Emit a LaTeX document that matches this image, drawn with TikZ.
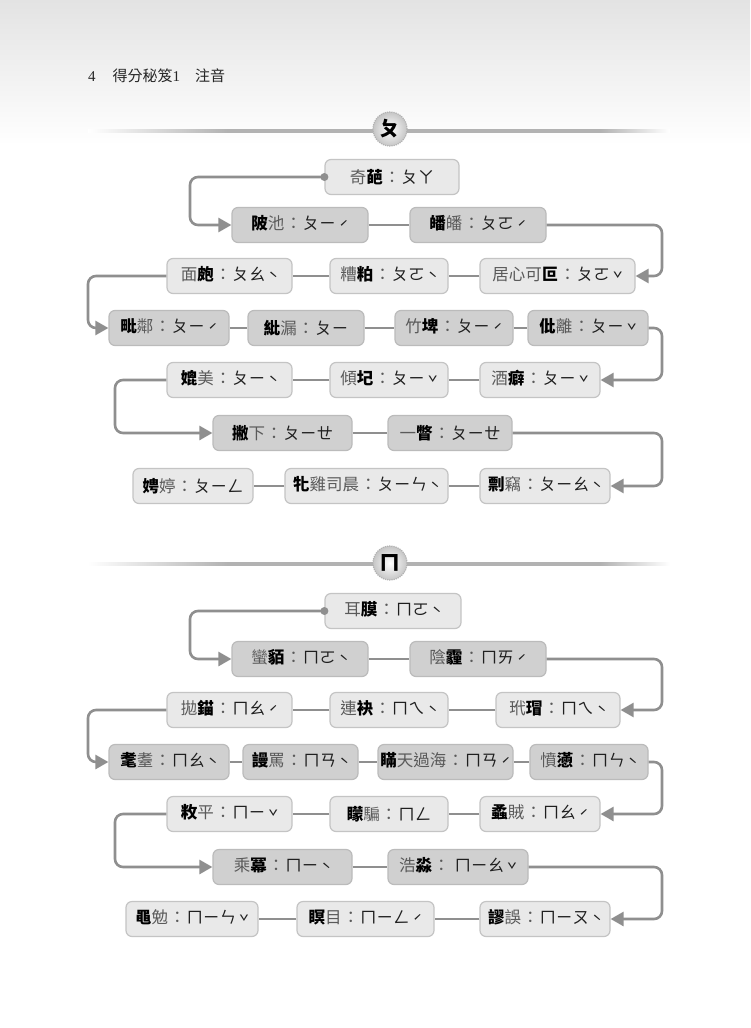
\documentclass[tikz,border=0pt]{standalone}
\usepackage{fontspec}
\setmainfont{Noto Sans CJK TC}
\newfontfamily\serfont{Liberation Serif}
\usetikzlibrary{arrows.meta}
\definecolor{lbox}{HTML}{E9E9E9}
\definecolor{lbord}{HTML}{C4C4C4}
\definecolor{dbox}{HTML}{D0D0D0}
\definecolor{dbord}{HTML}{BBBBBB}
\definecolor{conn}{HTML}{8F8F8F}
\definecolor{txt}{HTML}{5A5A5A}
\definecolor{divc}{HTML}{B2B2B2}
\pgfdeclarehorizontalshading{divsh}{100bp}{color(0bp)=(white); color(25bp)=(white); color(37bp)=(divc); color(69bp)=(divc); color(75bp)=(white); color(100bp)=(white)}
\newcommand{\B}[1]{{\bfseries\color{black}#1}}
\newcommand{\Z}[1]{\hspace{1pt}：\hspace{1pt}{\color{black!88}#1}}
\newcommand{\tn}[1]{\hspace{3pt}\raisebox{-4.5pt}{#1}}
\tikzset{
  word/.style={rounded corners=6pt, minimum height=35pt, inner sep=0pt, line width=1.2pt,
    text=txt, font=\fontsize{16.5}{18}\selectfont},
  light/.style={word, fill=lbox, draw=lbord},
  dark/.style={word, fill=dbox, draw=dbord},
  link/.style={draw=conn, line width=2.6pt},
  route/.style={link, rounded corners=8pt, -{Triangle[length=13pt,width=14pt]}},
  badge/.style={circle, minimum size=34pt, inner sep=0pt, inner color=white, outer color=gray!45,
    draw=gray!60, densely dotted, line width=1.2pt, text=black, font=\bfseries\fontsize{21}{21}\selectfont},
}
\begin{document}
\begin{tikzpicture}[x=1pt,y=-1pt]
\fill[white] (0,0) rectangle (750,1028);
\useasboundingbox (0,0) rectangle (750,1028);
\shade[top color=gray!22, bottom color=white] (0,0) rectangle (750,145);
\node[anchor=base west, font=\fontsize{15}{17}\selectfont, text=black!85, inner sep=0pt] (hdr) at (88,81)
  {{\serfont 4}\hspace{17pt}得分秘笈{\serfont 1}\hspace{15pt}注音};

% ---------- section 1 ----------
\shade[shading=divsh] (88,129.5) rectangle (670,132.5);
\node[badge] (pa) at (390,129) {ㄆ};

\node[light, minimum width=134pt] (a0) at (392,177) {奇\B{葩}\Z{ㄆㄚ}};
\node[dark, minimum width=136pt] (a1) at (300,225) {\B{陂}池\Z{ㄆㄧ\tn{ˊ}}};
\node[dark, minimum width=136pt] (a2) at (478,225) {\B{皤}皤\Z{ㄆㄛ\tn{ˊ}}};
\node[light, minimum width=125pt] (a3) at (229.5,276) {面\B{皰}\Z{ㄆㄠ\tn{ˋ}}};
\node[light, minimum width=118pt] (a4) at (389,276) {糟\B{粕}\Z{ㄆㄛ\tn{ˋ}}};
\node[light, minimum width=155pt] (a5) at (557.5,276) {居心可\B{叵}\Z{ㄆㄛ\tn{ˇ}}};
\node[dark, minimum width=120pt] (a6) at (169,328) {\B{毗}鄰\Z{ㄆㄧ\tn{ˊ}}};
\node[dark, minimum width=116pt] (a7) at (306,328) {\B{紕}漏\Z{ㄆㄧ}};
\node[dark, minimum width=118pt] (a8) at (454,328) {竹\B{埤}\Z{ㄆㄧ\tn{ˊ}}};
\node[dark, minimum width=120pt] (a9) at (588,328) {\B{仳}離\Z{ㄆㄧ\tn{ˇ}}};
\node[light, minimum width=125pt] (a10) at (229.5,380) {\B{媲}美\Z{ㄆㄧ\tn{ˋ}}};
\node[light, minimum width=118pt] (a11) at (389,380) {傾\B{圮}\Z{ㄆㄧ\tn{ˇ}}};
\node[light, minimum width=120pt] (a12) at (540,380) {酒\B{癖}\Z{ㄆㄧ\tn{ˇ}}};
\node[dark, minimum width=139pt] (a13) at (282.5,433) {\B{撇}下\Z{ㄆㄧㄝ}};
\node[dark, minimum width=124pt] (a14) at (450,433) {一\B{瞥}\Z{ㄆㄧㄝ}};
\node[light, minimum width=120pt] (a15) at (193,486) {\B{娉}婷\Z{ㄆㄧㄥ}};
\node[light, minimum width=163pt] (a16) at (366.5,486) {\B{牝}雞司晨\Z{ㄆㄧㄣ\tn{ˋ}}};
\node[light, minimum width=130pt] (a17) at (545,486) {\B{剽}竊\Z{ㄆㄧㄠ\tn{ˋ}}};

\draw[route] (a0.west) -- (190,177) -- (190,225) -- (a1.west);
\fill[conn] (a0.west) circle (4pt);
\draw[link] (a1.east) -- (a2.west);
\draw[route] (a2.east) -- (662,225) -- (662,276) -- (a5.east);
\draw[link] (a5.west) -- (a4.east) (a4.west) -- (a3.east);
\draw[route] (a3.west) -- (88,276) -- (88,328) -- (a6.west);
\draw[link] (a6.east) -- (a7.west) (a7.east) -- (a8.west) (a8.east) -- (a9.west);
\draw[route] (a9.east) -- (662,328) -- (662,380) -- (a12.east);
\draw[link] (a12.west) -- (a11.east) (a11.west) -- (a10.east);
\draw[route] (a10.west) -- (115,380) -- (115,433) -- (a13.west);
\draw[link] (a13.east) -- (a14.west);
\draw[route] (a14.east) -- (662,433) -- (662,486) -- (a17.east);
\draw[link] (a17.west) -- (a16.east) (a16.west) -- (a15.east);

% ---------- section 2 ----------
\shade[shading=divsh] (88,562.5) rectangle (670,565.5);
\node[badge] (pb) at (390,563) {ㄇ};

\node[light, minimum width=136pt] (b0) at (393,611) {耳\B{膜}\Z{ㄇㄛ\tn{ˋ}}};
\node[dark, minimum width=136pt] (b1) at (300,659) {蠻\B{貊}\Z{ㄇㄛ\tn{ˋ}}};
\node[dark, minimum width=136pt] (b2) at (478,659) {陰\B{霾}\Z{ㄇㄞ\tn{ˊ}}};
\node[light, minimum width=125pt] (b3) at (229.5,710) {拋\B{錨}\Z{ㄇㄠ\tn{ˊ}}};
\node[light, minimum width=118pt] (b4) at (389,710) {連\B{袂}\Z{ㄇㄟ\tn{ˋ}}};
\node[light, minimum width=124pt] (b5) at (558,710) {玳\B{瑁}\Z{ㄇㄟ\tn{ˋ}}};
\node[dark, minimum width=120pt] (b6) at (169,762) {\B{耄}耋\Z{ㄇㄠ\tn{ˋ}}};
\node[dark, minimum width=115pt] (b7) at (300.5,762) {\B{謾}罵\Z{ㄇㄢ\tn{ˋ}}};
\node[dark, minimum width=135pt] (b8) at (445.5,762) {\B{瞞}天過海\Z{ㄇㄢ\tn{ˊ}}};
\node[dark, minimum width=118pt] (b9) at (589,762) {憤\B{懣}\Z{ㄇㄣ\tn{ˋ}}};
\node[light, minimum width=125pt] (b10) at (229.5,814) {\B{敉}平\Z{ㄇㄧ\tn{ˇ}}};
\node[light, minimum width=118pt] (b11) at (389,814) {\B{矇}騙\Z{ㄇㄥ}};
\node[light, minimum width=120pt] (b12) at (540,814) {\B{蟊}賊\Z{ㄇㄠ\tn{ˊ}}};
\node[dark, minimum width=139pt] (b13) at (282.5,867) {乘\B{冪}\Z{ㄇㄧ\tn{ˋ}}};
\node[dark, minimum width=140pt] (b14) at (458,867) {浩\B{淼}\Z{\hspace{4pt}ㄇㄧㄠ\tn{ˇ}}};
\node[light, minimum width=132pt] (b15) at (192,919) {\B{黽}勉\Z{ㄇㄧㄣ\tn{ˇ}}};
\node[light, minimum width=137pt] (b16) at (365.5,919) {\B{瞑}目\Z{ㄇㄧㄥ\tn{ˊ}}};
\node[light, minimum width=130pt] (b17) at (545,919) {\B{謬}誤\Z{ㄇㄧㄡ\tn{ˋ}}};

\draw[route] (b0.west) -- (190,611) -- (190,659) -- (b1.west);
\fill[conn] (b0.west) circle (4pt);
\draw[link] (b1.east) -- (b2.west);
\draw[route] (b2.east) -- (662,659) -- (662,710) -- (b5.east);
\draw[link] (b5.west) -- (b4.east) (b4.west) -- (b3.east);
\draw[route] (b3.west) -- (88,710) -- (88,762) -- (b6.west);
\draw[link] (b6.east) -- (b7.west) (b7.east) -- (b8.west) (b8.east) -- (b9.west);
\draw[route] (b9.east) -- (662,762) -- (662,814) -- (b12.east);
\draw[link] (b12.west) -- (b11.east) (b11.west) -- (b10.east);
\draw[route] (b10.west) -- (115,814) -- (115,867) -- (b13.west);
\draw[link] (b13.east) -- (b14.west);
\draw[route] (b14.east) -- (662,867) -- (662,919) -- (b17.east);
\draw[link] (b17.west) -- (b16.east) (b16.west) -- (b15.east);
\end{tikzpicture}
\end{document}
